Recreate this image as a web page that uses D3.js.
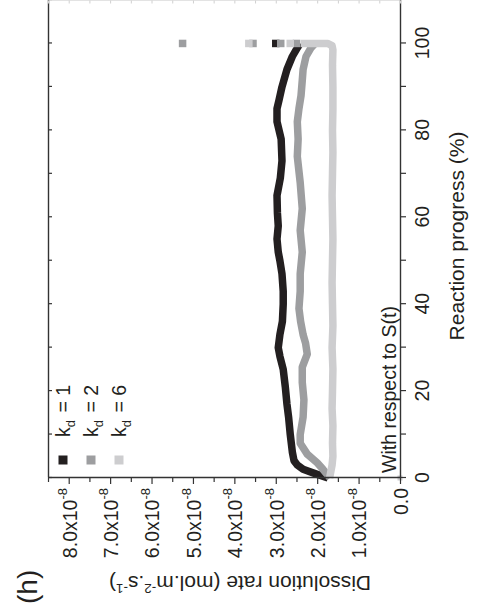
<!DOCTYPE html>
<html>
<head>
<meta charset="utf-8">
<script src="https://cdn.jsdelivr.net/npm/d3@7"></script>
<style>
  html, body { margin: 0; padding: 0; background: #fff; }
  svg { display: block; }
  text { font-family: "Liberation Sans", Arial, Helvetica, sans-serif; fill: #231f20; }
</style>
</head>
<body>
<svg id="chart" width="481" height="613"></svg>
<script>
// Reaction progress (%) ticks and dissolution-rate ticks (units of 1e-8 mol.m-2.s-1)
const progressTicks = [0, 20, 40, 60, 80, 100];
const rateTicks = [0, 1, 2, 3, 4, 5, 6, 7, 8];

// Legend entries (k_d values) and their greys
const kdValues = ["1", "2", "6"];
const seriesColors = ["#231f20", "#9d9ea0", "#cdcdcf"];

// k_d = 1
const k1Progress = [0, 1, 2, 3, 4, 6, 10, 14, 17, 21, 25, 28, 30, 33, 36, 40, 43, 47, 50, 52, 55, 58, 61, 65, 69, 73, 78, 82, 85, 87, 90, 94, 97, 99, 100];
const k1Rate     = [1.74, 2.05, 2.34, 2.48, 2.56, 2.60, 2.65, 2.69, 2.73, 2.77, 2.82, 2.90, 2.94, 2.90, 2.84, 2.82, 2.82, 2.85, 2.90, 2.94, 2.97, 2.94, 2.96, 2.97, 2.89, 2.85, 2.87, 2.97, 2.97, 2.92, 2.85, 2.73, 2.60, 2.48, 2.41];
const k1EndRates = [3.00];

// k_d = 2
const k2Progress = [0, 2, 3.5, 5.5, 8, 10, 14, 18, 22, 25.5, 28.5, 31, 33, 36, 39, 43, 47, 52, 57, 62, 68, 74, 78, 82, 85, 88, 91.5, 94, 97, 99, 100];
const k2Rate     = [1.69, 1.86, 2.00, 2.24, 2.41, 2.41, 2.34, 2.32, 2.36, 2.36, 2.24, 2.28, 2.34, 2.40, 2.44, 2.41, 2.41, 2.36, 2.41, 2.36, 2.41, 2.48, 2.46, 2.48, 2.44, 2.39, 2.36, 2.34, 2.27, 2.15, 2.05];
const k2EndRates = [5.25, 3.55, 2.88, 2.50];

// k_d = 6
const k6Progress = [0, 1, 3, 5, 8, 12, 16, 20, 25, 30, 35, 40, 45, 50, 55, 60, 65, 70, 75, 80, 85, 90, 95, 98.5, 99.5, 100, 100];
const k6Rate     = [1.70, 1.68, 1.64, 1.62, 1.63, 1.62, 1.64, 1.63, 1.62, 1.64, 1.62, 1.63, 1.64, 1.63, 1.62, 1.63, 1.64, 1.63, 1.62, 1.63, 1.62, 1.62, 1.63, 1.62, 1.64, 1.75, 2.40];
const k6EndRates = [3.65, 2.65];
const k6StartPoint = [0, 0];

const series = [
  { progress: k1Progress, rate: k1Rate, ends: k1EndRates },
  { progress: k2Progress, rate: k2Rate, ends: k2EndRates },
  { progress: k6Progress, rate: k6Rate, ends: k6EndRates }
];

const svg = d3.select("#chart");
// The figure is laid out upright (613 wide x 481 tall) and turned a quarter turn
const g = svg.append("g").attr("transform", "translate(0,613) rotate(-90)");

const x = d3.scaleLinear().domain([0, 110]).range([135, 613]);
const y = d3.scaleLinear().domain([0, 8.5]).range([400, 48]);

const line = d3.line().x(d => x(d[0])).y(d => y(d[1]));
const markerSize = 7.5;

// lone point at the origin
g.append("rect")
  .attr("x", x(k6StartPoint[0]) - 2.5).attr("y", y(k6StartPoint[1]) - 2.5)
  .attr("width", 5).attr("height", 5)
  .attr("fill", seriesColors[2]);

series.forEach((s, i) => {
  const pts = s.progress.map((p, j) => [p, s.rate[j]]);
  g.append("path")
    .datum(pts)
    .attr("d", line)
    .attr("fill", "none")
    .attr("stroke", seriesColors[i])
    .attr("stroke-width", 7.5)
    .attr("stroke-linejoin", "round");
  g.selectAll(null)
    .data(s.ends)
    .join("rect")
    .attr("x", x(100) - markerSize / 2)
    .attr("y", d => y(d) - markerSize / 2)
    .attr("width", markerSize).attr("height", markerSize)
    .attr("fill", seriesColors[i]);
});

const axisColor = "#333";
const styleAxis = sel => {
  sel.select(".domain").attr("stroke", axisColor).attr("stroke-width", 1.4);
  sel.selectAll(".tick line").attr("stroke", axisColor).attr("stroke-width", 1.2);
};

// Progress axis
const xAxis = d3.axisBottom(x)
  .tickValues(d3.range(0, 101, 10))
  .tickSize(6).tickSizeOuter(0).tickPadding(9)
  .tickFormat(d => progressTicks.includes(d) ? d : "");
const gx = g.append("g").attr("transform", "translate(0,400)").call(xAxis);
gx.attr("font-size", 19.5).attr("font-family", null);
gx.selectAll("text").attr("fill", "#231f20");
styleAxis(gx);

// Rate axis
const yAxis = d3.axisLeft(y)
  .tickValues(d3.range(0, 8.51, 0.5))
  .tickSize(6).tickSizeOuter(0).tickFormat("");
const gy = g.append("g").attr("transform", "translate(135,0)").call(yAxis);
styleAxis(gy);
gy.selectAll(".tick line").attr("x2", d => rateTicks.includes(d) ? -6 : -4);

const rateLabels = g.append("g").attr("font-size", 19.5);
rateTicks.forEach(v => {
  const t = rateLabels.append("text")
    .attr("x", 125).attr("y", y(v)).attr("dy", "0.4em")
    .attr("text-anchor", "end");
  if (v === 0) {
    t.text("0.0");
  } else {
    t.append("tspan").text(v.toFixed(1) + "x10");
    t.append("tspan").attr("font-size", 13).attr("dy", "-0.75em").text("-8");
  }
});

// Mirrored frame edges with inward ticks
const gTop = g.append("g").attr("transform", "translate(0,48)")
  .call(d3.axisTop(x).tickValues(d3.range(0, 111, 10)).tickSize(-4).tickSizeOuter(0).tickFormat(""));
styleAxis(gTop);
const gRight = g.append("g").attr("transform", "translate(612.5,0)")
  .call(d3.axisRight(y).tickValues(d3.range(0, 8.51, 0.5)).tickSize(-3).tickSizeOuter(0).tickFormat(""));
gRight.select(".domain").attr("stroke", "#c8c8c8").attr("stroke-width", 1);
gRight.selectAll(".tick line").attr("stroke", "#d0d0d0");

// Axis titles
g.append("text")
  .attr("x", 377).attr("y", 464)
  .attr("text-anchor", "middle").attr("font-size", 21)
  .text("Reaction progress (%)");

const yt = g.append("text")
  .attr("transform", "translate(37,240) rotate(-90)")
  .attr("text-anchor", "middle").attr("font-size", 21);
yt.append("tspan").text("Dissolution rate (mol.m");
yt.append("tspan").attr("font-size", 13.5).attr("dy", -8).text("-2");
yt.append("tspan").attr("dy", 8).text(".s");
yt.append("tspan").attr("font-size", 13.5).attr("dy", -8).text("-1");
yt.append("tspan").attr("dy", 8).text(")");

// Panel letter
g.append("text").attr("x", 9).attr("y", 37).attr("font-size", 28).text("(h)");

// Annotation
g.append("text").attr("x", 140).attr("y", 396).attr("font-size", 19.5).text("With respect to S(t)");

// Legend
const legend = g.append("g");
kdValues.forEach((k, i) => {
  const cy = 63 + i * 28;
  legend.append("rect")
    .attr("x", 148.5).attr("y", cy - 4.5)
    .attr("width", 9).attr("height", 9)
    .attr("fill", seriesColors[i]);
  const t = legend.append("text").attr("x", 176).attr("y", cy + 7).attr("font-size", 19.5);
  t.append("tspan").text("k");
  t.append("tspan").attr("font-size", 13).attr("dy", 5).text("d");
  t.append("tspan").attr("dy", -5).attr("dx", 2).text(" = " + k);
});
</script>
</body>
</html>
